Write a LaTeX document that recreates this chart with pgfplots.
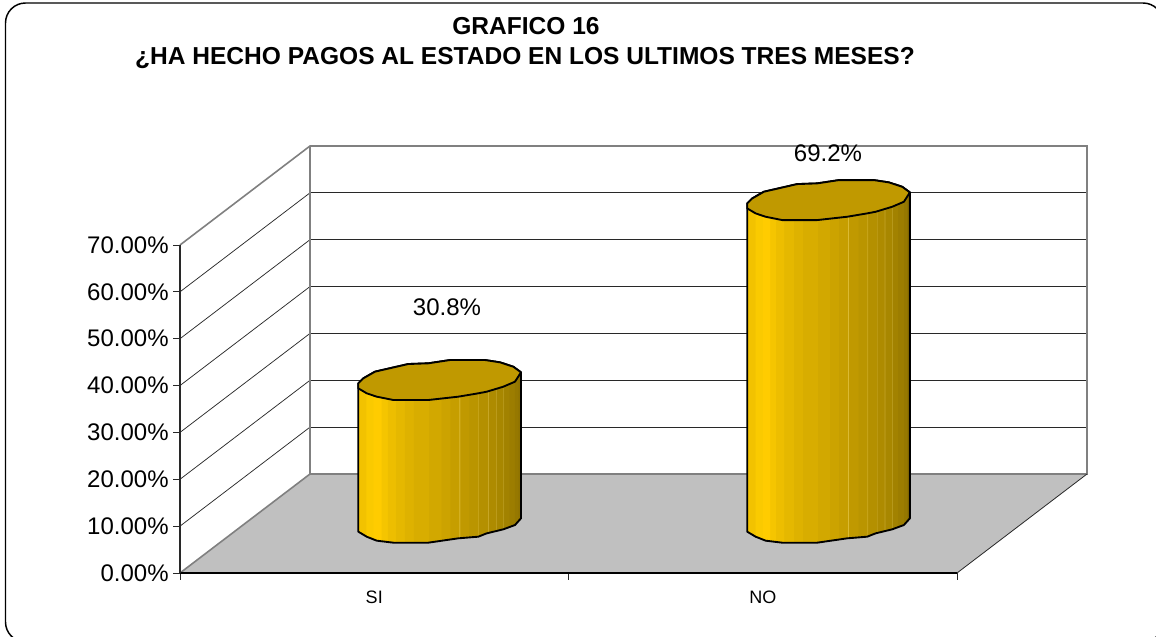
\documentclass[border=0pt]{standalone}
\usepackage{fontspec}
\setmainfont{Liberation Sans}
\usepackage{pgfplots}
\pgfplotsset{compat=1.18}
\definecolor{wallgray}{RGB}{128,128,128}
\definecolor{floorgray}{RGB}{192,192,192}
\definecolor{griddark}{RGB}{40,40,40}
\definecolor{cyltop}{RGB}{192,153,0}

% stepped left-to-right fill of the cylinder sides (25bp..75bp spans the shape)
\pgfdeclarehorizontalshading{cylsteps}{100bp}{
  rgb(0bp)=(.949,.761,0); rgb(27.4bp)=(.949,.761,0);
  rgb(27.42bp)=(.98,.792,0); rgb(29.6bp)=(.98,.792,0);
  rgb(29.62bp)=(1,.8,0); rgb(31.9bp)=(1,.8,0);
  rgb(31.92bp)=(.961,.773,0); rgb(33.8bp)=(.961,.773,0);
  rgb(33.82bp)=(.929,.745,0); rgb(36.3bp)=(.929,.745,0);
  rgb(36.32bp)=(.898,.722,0); rgb(39.1bp)=(.898,.722,0);
  rgb(39.12bp)=(.871,.698,0); rgb(42bp)=(.871,.698,0);
  rgb(42.02bp)=(.847,.678,0); rgb(46.6bp)=(.847,.678,0);
  rgb(46.62bp)=(.824,.659,0); rgb(50.3bp)=(.824,.659,0);
  rgb(50.32bp)=(.8,.639,0); rgb(53.1bp)=(.8,.639,0);
  rgb(53.12bp)=(.776,.62,0); rgb(55.9bp)=(.776,.62,0);
  rgb(55.92bp)=(.86,.73,.2); rgb(56.1bp)=(.86,.73,.2);
  rgb(56.12bp)=(.753,.6,0); rgb(59bp)=(.753,.6,0);
  rgb(59.02bp)=(.729,.584,0); rgb(61.8bp)=(.729,.584,0);
  rgb(61.82bp)=(.82,.69,.18); rgb(62bp)=(.82,.69,.18);
  rgb(62.02bp)=(.706,.565,0); rgb(64.7bp)=(.706,.565,0);
  rgb(64.72bp)=(.79,.66,.16); rgb(64.9bp)=(.79,.66,.16);
  rgb(64.92bp)=(.682,.545,0); rgb(67.1bp)=(.682,.545,0);
  rgb(67.12bp)=(.76,.63,.14); rgb(67.3bp)=(.76,.63,.14);
  rgb(67.32bp)=(.659,.529,0); rgb(69.3bp)=(.659,.529,0);
  rgb(69.32bp)=(.73,.61,.12); rgb(69.5bp)=(.73,.61,.12);
  rgb(69.52bp)=(.635,.51,0); rgb(71.2bp)=(.635,.51,0);
  rgb(71.22bp)=(.612,.49,0); rgb(73bp)=(.612,.49,0);
  rgb(73.02bp)=(.588,.471,0); rgb(73.9bp)=(.588,.471,0);
  rgb(73.92bp)=(.565,.451,0); rgb(100bp)=(.565,.451,0)
}

\begin{document}
\begin{tikzpicture}
% page, frame, walls and floor in reference pixels
\begin{scope}[x=0.75pt,y=-0.75pt,xshift=-135pt,yshift=429.75pt]
  \fill[white] (0,0) rectangle (1156,636);
  \draw[overlay,black,line width=1.1pt,rounded corners=15pt] (5.5,3) rectangle (1163,642);
  \fill[floorgray] (180,573) -- (310,474) -- (1087,474) -- (957,573) -- cycle;
  \foreach \k in {1,...,6} {
    \draw[griddark,line width=0.55pt] (180,573-46.86*\k) -- (310,474-46.86*\k);
    \draw[griddark,line width=0.8pt] (310,474-46.86*\k) -- (1087,474-46.86*\k);
  }
  \draw[wallgray,line width=1.2pt] (180,245) -- (310,146) -- (1087,146) -- (1087,474) -- (310,474) -- (180,573);
  \draw[wallgray,line width=1.2pt] (310,146) -- (310,474);
  \draw[griddark,line width=0.6pt] (957,573) -- (1087,474);
\end{scope}

\begin{axis}[
  scale only axis,
  width=582.75pt, height=246pt,
  xmin=180, xmax=957,
  ymin=0, ymax=70,
  clip=false,
  axis y line=left, axis x line=bottom,
  axis line style={-},
  x axis line style={black,line width=1pt},
  y axis line style={griddark,line width=1.2pt},
  tick align=outside,
  major tick length=5pt,
  tick style={griddark,line width=0.7pt},
  xtick={180,568.5,957},
  xticklabels={},
  extra x ticks={374.25,762.75},
  extra x tick labels={SI,NO},
  extra x tick style={major tick length=0pt,
    xticklabel style={font=\fontsize{13.5}{15}\selectfont,anchor=center,yshift=-18pt}},
  ytick={0,10,20,30,40,50,60,70},
  yticklabel={\pgfmathprintnumber{\tick}\%},
  yticklabel style={font=\fontsize{18}{20}\selectfont,
    /pgf/number format/.cd,fixed,fixed zerofill,precision=2,assume math mode=true},
]
% SI, value 30.8
\addplot[shade,shading=cylsteps,draw=black,line width=1.4pt,line join=round] coordinates {
  (358.3,8.82) (366.7,7.75) (376.7,6.90) (393.3,6.47) (428.3,6.47) (458.3,7.40)
  (478.3,7.75) (486.7,8.46) (503.3,9.32) (515,10.24) (521,11.67)
  (521,42.83) (513.3,44.03) (500,44.96) (485,45.45) (450,45.45) (428.3,44.75)
  (408.3,44.60) (375,42.97) (363.3,41.54) (358.3,40.48)
} -- cycle;
\addplot[fill=cyltop,draw=black,line width=1.4pt,line join=round] coordinates {
  (358.3,40.48) (363.3,41.54) (375,42.97) (408.3,44.60) (428.3,44.75) (450,45.45)
  (485,45.45) (500,44.96) (513.3,44.03) (521,42.83) (515,40.83) (503.3,39.76)
  (486.7,38.69) (478.3,38.35) (458.3,37.63) (428.3,36.92) (393.3,36.92) (376.7,37.63)
  (366.7,38.35) (358.3,39.41)
} -- cycle;
% NO, value 69.2
\addplot[shade,shading=cylsteps,draw=black,line width=1.4pt,line join=round] coordinates {
  (747.2,8.82) (755.6,7.75) (765.6,6.90) (782.2,6.47) (817.2,6.47) (847.2,7.40)
  (867.2,7.75) (875.6,8.46) (892.2,9.32) (903.9,10.24) (909.9,11.67)
  (909.9,81.23) (902.2,82.43) (888.9,83.36) (873.9,83.85) (838.9,83.85) (817.2,83.15)
  (797.2,83.00) (763.9,81.37) (752.2,79.94) (747.2,78.88)
} -- cycle;
\addplot[fill=cyltop,draw=black,line width=1.4pt,line join=round] coordinates {
  (747.2,78.88) (752.2,79.94) (763.9,81.37) (797.2,83.00) (817.2,83.15) (838.9,83.85)
  (873.9,83.85) (888.9,83.36) (902.2,82.43) (909.9,81.23) (903.9,79.23) (892.2,78.16)
  (875.6,77.09) (867.2,76.75) (847.2,76.03) (817.2,75.32) (782.2,75.32) (765.6,76.03)
  (755.6,76.75) (747.2,77.81)
} -- cycle;
\end{axis}

% title and value labels
\begin{scope}[x=0.75pt,y=-0.75pt,xshift=-135pt,yshift=429.75pt]
  \node[font=\fontsize{18.4}{20}\selectfont\bfseries] at (526,26) {GRAFICO 16};
  \node[font=\fontsize{18.4}{20}\selectfont\bfseries] at (525,58) {¿HA HECHO PAGOS AL ESTADO EN LOS ULTIMOS TRES MESES?};
  \node[font=\fontsize{18}{20}\selectfont] at (447,307) {30.8\%};
  \node[font=\fontsize{18}{20}\selectfont] at (828,153) {69.2\%};
\end{scope}
\end{tikzpicture}
\end{document}
